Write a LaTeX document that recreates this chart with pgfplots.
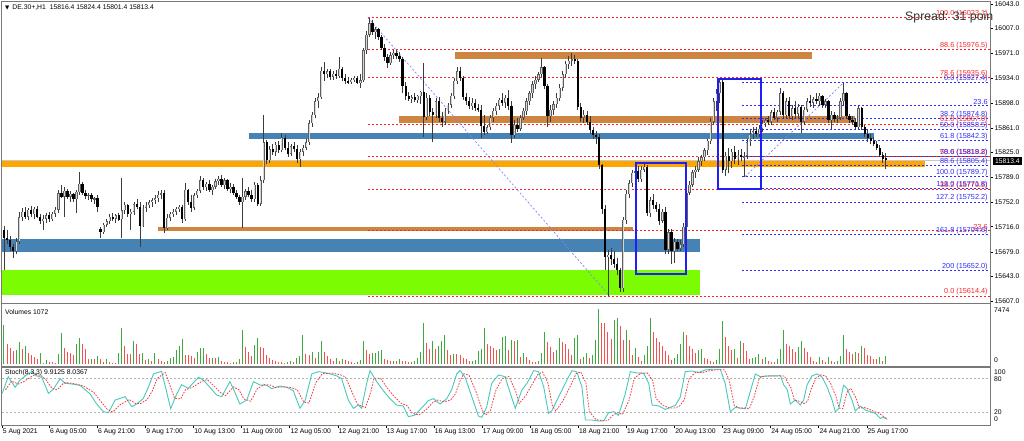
\documentclass[border=0pt]{standalone}
\usepackage{fontspec}
\setmainfont{Liberation Sans}
\newfontfamily\dejavu{DejaVu Sans}
\usepackage{pgfplots}
\usepackage{pgfplotstable}
\pgfplotsset{compat=1.18}
\definecolor{peru}{RGB}{205,133,63}
\definecolor{steel}{RGB}{70,130,180}
\definecolor{orng}{RGB}{255,165,0}
\definecolor{lawn}{RGB}{124,252,0}
\definecolor{fibred}{RGB}{250,40,40}
\definecolor{fibblue}{RGB}{45,45,250}
\definecolor{boxblue}{RGB}{30,30,245}
\definecolor{volg}{RGB}{60,170,60}
\definecolor{volr}{RGB}{245,80,80}
\definecolor{stk}{RGB}{72,201,190}
\definecolor{std}{RGB}{240,60,60}
\definecolor{frm}{RGB}{120,120,120}
\definecolor{bulledge}{RGB}{95,95,95}
\definecolor{bullfill}{RGB}{215,215,215}
\definecolor{wick}{RGB}{60,60,60}
\newcommand\sm{\fontsize{6.8}{8}\selectfont}
\newcommand\fl{\fontsize{7.3}{8}\selectfont}

\pgfplotstableread{
i o h l c
0 15711 15717 15652 15700
1 15700 15711 15690 15696
2 15696 15702 15680 15686
3 15686 15690 15670 15680
4 15680 15699 15676 15694
5 15694 15738 15690 15730
6 15730 15743 15724 15738
7 15738 15745 15727 15731
8 15731 15744 15726 15741
9 15741 15747 15730 15734
10 15734 15745 15728 15742
11 15742 15746 15729 15731
12 15731 15734 15720 15724
13 15724 15733 15711 15728
14 15728 15736 15722 15733
15 15733 15738 15723 15727
16 15727 15737 15724 15735
17 15735 15745 15730 15741
18 15741 15770 15736 15765
19 15765 15777 15758 15760
20 15760 15774 15730 15769
21 15769 15772 15756 15760
22 15760 15768 15752 15764
23 15764 15766 15753 15756
24 15756 15770 15736 15767
25 15767 15797 15763 15779
26 15779 15782 15762 15766
27 15766 15770 15756 15761
28 15761 15766 15755 15763
29 15763 15765 15752 15756
30 15756 15760 15750 15758
31 15758 15762 15738 15745
32 15712 15716 15700 15708
33 15708 15722 15705 15719
34 15719 15728 15715 15724
35 15724 15734 15720 15731
36 15731 15736 15725 15728
37 15728 15735 15722 15733
38 15733 15736 15724 15726
39 15727 15788 15700 15740
40 15740 15752 15735 15748
41 15748 15750 15731 15735
42 15735 15742 15711 15738
43 15738 15752 15733 15749
44 15749 15756 15742 15745
45 15745 15752 15686 15717
46 15717 15748 15715 15744
47 15744 15752 15738 15748
48 15748 15755 15743 15752
49 15752 15758 15745 15755
50 15755 15762 15750 15758
51 15758 15768 15752 15763
52 15763 15770 15756 15765
53 15765 15770 15707 15714
54 15714 15734 15711 15729
55 15729 15738 15725 15735
56 15735 15742 15730 15738
57 15738 15745 15733 15742
58 15742 15748 15737 15745
59 15745 15748 15722 15727
60 15727 15780 15724 15770
61 15770 15772 15748 15752
62 15752 15762 15738 15744
63 15744 15766 15741 15762
64 15762 15772 15758 15769
65 15769 15790 15765 15784
66 15784 15787 15770 15774
67 15774 15782 15768 15779
68 15779 15784 15767 15770
69 15770 15778 15763 15775
70 15775 15786 15771 15783
71 15783 15790 15778 15786
72 15786 15792 15774 15777
73 15777 15788 15772 15784
74 15784 15786 15768 15771
75 15771 15780 15765 15775
76 15775 15779 15762 15765
77 15765 15770 15757 15760
78 15760 15763 15748 15752
79 15752 15788 15714 15760
80 15760 15772 15755 15768
81 15768 15775 15760 15763
82 15763 15770 15752 15756
83 15756 15782 15752 15778
84 15778 15780 15746 15750
85 15750 15790 15746 15784
86 15784 15880 15780 15840
87 15840 15843 15808 15814
88 15814 15835 15810 15830
89 15830 15838 15822 15826
90 15826 15840 15820 15836
91 15836 15842 15825 15828
92 15828 15853 15826 15847
93 15847 15850 15828 15832
94 15832 15840 15818 15823
95 15823 15838 15820 15834
96 15834 15841 15826 15830
97 15830 15836 15810 15815
98 15815 15830 15803 15826
99 15826 15836 15820 15832
100 15832 15845 15828 15840
101 15840 15872 15836 15868
102 15868 15885 15862 15880
103 15880 15905 15876 15900
104 15900 15912 15890 15906
105 15906 15950 15904 15945
106 15945 15958 15930 15940
107 15940 15948 15935 15944
108 15944 15947 15932 15936
109 15936 15944 15932 15941
110 15941 15946 15933 15937
111 15937 15965 15934 15948
112 15948 15951 15930 15935
113 15935 15940 15926 15930
114 15930 15936 15926 15928
115 15928 15934 15925 15932
116 15932 15938 15929 15935
117 15935 15937 15925 15927
118 15927 15941 15920 15931
119 15931 15978 15929 15975
120 15975 16003 15970 15998
121 15998 16023.1 15995 16015
122 16015 16020 15998 16002
123 16002 16010 15992 16006
124 16006 16008 15990 15994
125 15994 15998 15975 15979
126 15979 15985 15960 15965
127 15965 15970 15949 15956
128 15956 15972 15953 15968
129 15968 15975 15962 15971
130 15971 15976 15963 15966
131 15966 15972 15958 15962
132 15962 15965 15912 15922
133 15922 15928 15902 15908
134 15908 15914 15900 15903
135 15903 15910 15897 15906
136 15906 15912 15899 15902
137 15902 15910 15898 15908
138 15908 15916 15896 15914
139 15914 15956 15848 15877
140 15877 15912 15873 15905
141 15905 15910 15878 15884
142 15884 15890 15840 15880
143 15880 15905 15876 15900
144 15900 15906 15870 15876
145 15876 15885 15862 15870
146 15870 15890 15866 15886
147 15886 15898 15882 15895
148 15895 15912 15890 15908
149 15908 15935 15904 15930
150 15930 15950 15925 15944
151 15944 15951 15930 15934
152 15934 15937 15902 15907
153 15907 15912 15895 15900
154 15900 15906 15889 15893
155 15893 15905 15888 15898
156 15898 15903 15886 15890
157 15890 15896 15884 15888
158 15888 15895 15846 15864
159 15864 15880 15850 15855
160 15855 15866 15852 15862
161 15862 15880 15858 15876
162 15876 15890 15870 15886
163 15886 15898 15880 15894
164 15894 15905 15888 15902
165 15902 15912 15893 15898
166 15898 15910 15890 15905
167 15905 15917 15888 15893
168 15893 15900 15839 15850
169 15850 15872 15846 15866
170 15866 15875 15855 15860
171 15860 15880 15856 15876
172 15876 15890 15872 15886
173 15886 15905 15880 15900
174 15900 15916 15895 15912
175 15912 15930 15905 15925
176 15925 15938 15918 15932
177 15932 15943 15928 15940
178 15940 15964 15936 15950
179 15950 15952 15918 15922
180 15922 15926 15862 15878
181 15878 15895 15870 15888
182 15888 15900 15880 15896
183 15896 15912 15890 15905
184 15905 15925 15900 15920
185 15920 15945 15915 15940
186 15940 15960 15935 15955
187 15955 15966 15948 15960
188 15960 15971 15952 15962
189 15962 15968 15955 15960
190 15960 15963 15888 15892
191 15892 15897 15870 15876
192 15876 15888 15868 15880
193 15880 15886 15865 15870
194 15870 15878 15852 15858
195 15858 15862 15845 15850
196 15850 15856 15838 15848
197 15848 15852 15801 15806
198 15806 15808 15735 15742
199 15742 15748 15652 15671
200 15671 15682 15614.4 15675
201 15675 15685 15660 15668
202 15668 15680 15656 15662
203 15662 15670 15645 15652
204 15652 15655 15620 15626
205 15626 15730 15620 15726
206 15726 15770 15720 15764
207 15764 15785 15758 15780
208 15780 15800 15775 15795
209 15795 15802 15790 15798
210 15798 15805 15782 15786
211 15786 15805 15782 15800
212 15800 15810 15796 15804
213 15804 15806 15732 15736
214 15736 15760 15730 15755
215 15755 15764 15742 15748
216 15748 15752 15738 15742
217 15742 15750 15718 15725
218 15725 15742 15722 15738
219 15738 15745 15676 15682
220 15682 15712 15676 15708
221 15708 15712 15662 15680
222 15680 15700 15663 15694
223 15694 15698 15680 15684
224 15684 15696 15680 15690
225 15690 15722 15686 15716
226 15716 15770 15712 15766
227 15766 15783 15762 15778
228 15778 15800 15774 15796
229 15796 15805 15788 15800
230 15800 15818 15797 15812
231 15812 15822 15805 15818
232 15818 15832 15812 15828
233 15828 15845 15822 15842
234 15842 15875 15838 15870
235 15870 15905 15866 15900
236 15900 15918 15886 15912
237 15912 15934 15898 15928
238 15928 15932 15795 15800
239 15800 15826 15790 15820
240 15820 15832 15795 15812
241 15812 15830 15802 15826
242 15826 15835 15808 15815
243 15815 15828 15806 15822
244 15822 15830 15812 15818
245 15818 15826 15789.7 15820
246 15820 15845 15815 15840
247 15840 15858 15835 15852
248 15852 15862 15845 15856
249 15856 15862 15848 15852
250 15852 15866 15848 15860
251 15860 15872 15855 15868
252 15868 15876 15862 15872
253 15872 15878 15866 15870
254 15870 15888 15866 15884
255 15884 15890 15872 15876
256 15876 15888 15870 15885
257 15885 15920 15880 15912
258 15912 15916 15875 15880
259 15880 15905 15874 15900
260 15900 15906 15874 15878
261 15878 15895 15873 15890
262 15890 15900 15876 15882
263 15882 15896 15876 15892
264 15892 15895 15853 15870
265 15870 15892 15866 15888
266 15888 15905 15884 15900
267 15900 15910 15892 15898
268 15898 15907 15890 15903
269 15903 15912 15896 15900
270 15900 15912 15894 15908
271 15908 15910 15890 15895
272 15895 15904 15890 15900
273 15900 15902 15868 15872
274 15872 15886 15860 15880
275 15880 15884 15870 15874
276 15874 15880 15868 15876
277 15876 15905 15872 15900
278 15900 15927.4 15895 15912
279 15912 15914 15874 15878
280 15878 15882 15868 15872
281 15872 15878 15866 15870
282 15870 15874 15858 15862
283 15862 15895 15858 15890
284 15890 15892 15858 15862
285 15862 15866 15848 15852
286 15852 15858 15840 15846
287 15846 15852 15838 15842
288 15842 15848 15835 15838
289 15838 15842 15828 15832
290 15832 15836 15818 15822
291 15822 15826 15810 15816
292 15816.4 15824.4 15801.4 15813.4
}\candles

\pgfplotstableread{
i v g
0 5300 1
1 2700 0
2 2150 0
3 1840 0
4 1900 1
5 2960 1
6 2000 0
7 2470 1
8 1480 0
9 1250 0
10 950 0
11 700 0
12 1570 1
13 150 0
14 600 1
15 350 0
16 250 0
17 150 0
18 1400 1
19 4265 1
20 2150 0
21 1700 0
22 1500 0
23 1250 0
24 2700 1
25 3590 1
26 2700 0
27 2100 0
28 700 0
29 720 1
30 700 0
31 1100 1
32 700 0
33 350 0
34 700 1
35 250 0
36 200 0
37 150 0
38 1550 1
39 4850 1
40 2450 0
41 1400 0
42 1350 0
43 3200 1
44 2700 0
45 1400 0
46 1500 1
47 600 0
48 700 1
49 400 0
50 1500 1
51 700 0
52 400 0
53 350 0
54 500 1
55 800 1
56 1050 1
57 1900 1
58 2500 1
59 3400 1
60 1300 0
61 1200 0
62 1100 0
63 900 0
64 1700 1
65 2200 1
66 2250 1
67 1400 0
68 800 0
69 900 1
70 800 0
71 1000 1
72 500 0
73 350 0
74 250 0
75 200 0
76 350 1
77 300 0
78 700 1
79 4600 1
80 2300 0
81 1600 0
82 1100 0
83 2600 1
84 3600 1
85 2300 0
86 2250 0
87 1300 0
88 900 0
89 600 0
90 400 0
91 350 0
92 250 0
93 200 0
94 300 1
95 450 1
96 300 0
97 900 1
98 1150 1
99 3900 1
100 1400 0
101 1250 0
102 1600 1
103 900 0
104 1700 1
105 3200 1
106 1700 0
107 1150 0
108 700 0
109 400 0
110 800 1
111 450 0
112 700 1
113 600 0
114 400 0
115 300 0
116 200 0
117 350 1
118 600 1
119 3100 1
120 1900 0
121 1400 0
122 1500 1
123 1550 1
124 1800 1
125 1950 1
126 750 0
127 600 0
128 450 0
129 500 1
130 400 0
131 700 1
132 500 0
133 400 0
134 300 0
135 250 0
136 400 1
137 800 1
138 1700 1
139 5600 1
140 2900 0
141 2000 0
142 3100 1
143 2000 0
144 2400 1
145 3200 1
146 3900 1
147 1900 0
148 1200 0
149 1450 1
150 1400 0
151 1300 0
152 900 0
153 700 0
154 400 0
155 500 1
156 600 1
157 1800 1
158 2000 1
159 4900 1
160 2800 0
161 2400 0
162 2200 0
163 1900 0
164 2100 1
165 3700 1
166 3750 1
167 1900 0
168 3250 1
169 3100 0
170 3300 1
171 950 0
172 1500 1
173 950 0
174 600 0
175 350 0
176 320 0
177 500 1
178 1500 1
179 4400 1
180 3000 0
181 2300 0
182 1600 0
183 1950 1
184 3600 1
185 3000 0
186 2750 0
187 2000 0
188 1300 0
189 3600 1
190 4000 1
191 700 0
192 1050 1
193 1500 1
194 800 0
195 1300 1
196 3300 1
197 7474 1
198 5600 0
199 5550 0
200 4400 0
201 3450 0
202 6000 1
203 6300 1
204 5200 0
205 3300 0
206 4600 1
207 3300 0
208 1300 0
209 2200 1
210 1050 0
211 500 0
212 1300 1
213 2400 1
214 6300 1
215 4300 0
216 3600 0
217 3000 0
218 2400 0
219 1750 0
220 1300 0
221 600 0
222 800 1
223 1400 1
224 2800 1
225 4400 1
226 3900 0
227 2500 0
228 2000 0
229 1500 0
230 1900 1
231 2050 1
232 800 0
233 700 0
234 500 0
235 300 0
236 600 1
237 2000 1
238 5860 1
239 3700 0
240 2450 0
241 1900 0
242 2000 1
243 800 0
244 3100 1
245 2900 0
246 1750 0
247 700 0
248 800 1
249 950 1
250 1400 1
251 700 0
252 950 1
253 500 0
254 350 0
255 250 0
256 700 1
257 2000 1
258 4600 1
259 2800 0
260 2500 0
261 2000 0
262 1600 0
263 2350 1
264 3100 1
265 2200 0
266 1600 0
267 1050 0
268 500 0
269 350 0
270 1050 1
271 600 0
272 350 0
273 950 1
274 500 0
275 250 0
276 500 1
277 1150 1
278 3900 1
279 2000 0
280 1600 0
281 1400 0
282 1600 1
283 1500 0
284 2400 1
285 2200 0
286 1300 0
287 1150 0
288 700 0
289 680 0
290 1050 1
291 500 0
292 1072 1
}\vol

\begin{document}
\begin{tikzpicture}
\useasboundingbox (0,0) rectangle (1024pt,440pt);
\fill[white] (0,0) rectangle (1024pt,440pt);

% ---------------- main price panel ----------------
\begin{axis}[
  at={(2pt,137pt)}, anchor=south west, scale only axis,
  width=988pt, height=301pt,
  xmin=-0.662, xmax=326.5, ymin=15604, ymax=16046,
  axis line style={draw=frm, line width=1pt},
  xtick=\empty,
  ytick={15607,15643,15679,15716,15752,15789,15825,15861,15898,15934,15971,16007,16043},
  yticklabels={15607.0,15643.0,15679.0,15716.0,15752.0,15789.0,15825.0,15861.0,15898.0,15934.0,15971.0,16007.0,16043.0},
  ytick pos=right, yticklabel pos=right,
  tick align=outside, major tick length=3pt,
  tick style={black, line width=0.5pt},
  yticklabel style={font=\sm, inner sep=0pt, xshift=1.5pt},
  clip mode=individual,
]
% zones
\fill[peru]  (axis cs:149.3,15961.8) rectangle (axis cs:267.5,15972.1);
\fill[peru]  (axis cs:130.8,15867.8) rectangle (axis cs:281.8,15879.0);
\fill[steel] (axis cs:81.1,15845.5) rectangle (axis cs:288.1,15853.5);
\fill[orng]  (axis cs:-0.6,15803.3) rectangle (axis cs:305,15812.5);
\fill[peru]  (axis cs:51,15709.2) rectangle (axis cs:208.3,15715.1);
\fill[steel] (axis cs:-0.6,15679) rectangle (axis cs:230.5,15698);
\fill[lawn]  (axis cs:-0.6,15615.3) rectangle (axis cs:230.5,15652.4);
% bid line
\draw[black!22, line width=0.8pt] (axis cs:-0.6,15813.4) -- (axis cs:326.4,15813.4);
% red fibo levels
\pgfplotsinvokeforeach{16023.1,15976.5,15935.6,15867.0,15818.8,15770.5,15710.9,15614.4}{
  \draw[fibred, line width=0.7pt, dash pattern=on 2pt off 2pt] (axis cs:120.5,#1) -- (axis cs:326.4,#1);
}
% blue fibo levels
\pgfplotsinvokeforeach{15927.4,15894.9,15874.8,15858.5,15842.3,15819.2,15805.4,15789.7,15771.8,15752.2,15704.6,15652.0}{
  \draw[fibblue, line width=0.7pt, dash pattern=on 2pt off 2pt] (axis cs:244.4,#1) -- (axis cs:326.4,#1);
}
% fibo trend lines
\draw[fibblue!60, line width=0.7pt, dash pattern=on 2pt off 2pt] (axis cs:120.5,16023.1) -- (axis cs:200.5,15614.4);
\draw[fibblue!60, line width=0.7pt, dash pattern=on 2pt off 2pt] (axis cs:245.4,15789.7) -- (axis cs:278,15927.4);

% candles: wicks
\addplot[forget plot, draw=none, mark=none,
  error bars/.cd, y dir=both, y explicit, error mark=none,
  error bar style={draw=wick, line width=0.7pt}]
  table[x=i, y expr=0.5*\thisrow{h}+0.5*\thisrow{l}, y error expr=0.5*\thisrow{h}-0.5*\thisrow{l}] {\candles};
% bearish bodies
\addplot[forget plot, draw=none, mark=none,
  restrict expr to domain={\thisrow{o}-\thisrow{c}}{0.001:10000},
  error bars/.cd, y dir=both, y explicit, error mark=none,
  error bar style={draw=black, line width=2.3pt}]
  table[x=i, y expr=0.5*\thisrow{o}+0.5*\thisrow{c}, y error expr=0.5*\thisrow{o}-0.5*\thisrow{c}] {\candles};
% bullish bodies (outline + light fill)
\addplot[forget plot, draw=none, mark=none,
  restrict expr to domain={\thisrow{c}-\thisrow{o}}{0:10000},
  error bars/.cd, y dir=both, y explicit, error mark=none,
  error bar style={draw=bulledge, line width=2.3pt}]
  table[x=i, y expr=0.5*\thisrow{o}+0.5*\thisrow{c}, y error expr=0.5*\thisrow{c}-0.5*\thisrow{o}] {\candles};
\addplot[forget plot, draw=none, mark=none,
  restrict expr to domain={\thisrow{c}-\thisrow{o}}{3:10000},
  error bars/.cd, y dir=both, y explicit, error mark=none,
  error bar style={draw=bullfill, line width=0.9pt}]
  table[x=i, y expr=0.5*\thisrow{o}+0.5*\thisrow{c}, y error expr=0.5*\thisrow{c}-0.5*\thisrow{o}-0.6] {\candles};

% boxes
\draw[boxblue, line width=1.8pt] (axis cs:209.3,15646.6) rectangle (axis cs:225.8,15809.6);
\draw[boxblue, line width=1.8pt] (axis cs:236.4,15771.4) rectangle (axis cs:250.7,15932.9);

% fibo labels
\begin{scope}[every node/.style={anchor=south east, inner sep=0.4pt, font=\fl}]
\node[text=fibred] at (axis cs:325.9,16023.1) {100.0 (16023.1)};
\node[text=fibred] at (axis cs:325.9,15976.5) {88.6 (15976.5)};
\node[text=fibred] at (axis cs:325.9,15935.6) {78.6 (15935.6)};
\node[text=fibred] at (axis cs:325.9,15867.0) {61.8 (15867.0)};
\node[text=fibred] at (axis cs:325.9,15818.8) {50.0 (15818.8)};
\node[text=fibred] at (axis cs:325.9,15770.5) {38.2 (15770.5)};
\node[text=fibred] at (axis cs:325.9,15710.9) {23.6};
\node[text=fibred] at (axis cs:325.9,15614.4) {0.0 (15614.4)};
\node[text=fibblue] at (axis cs:325.9,15927.4) {0.0 (15927.4)};
\node[text=fibblue] at (axis cs:325.9,15894.9) {23.6};
\node[text=fibblue] at (axis cs:325.9,15874.8) {38.2 (15874.8)};
\node[text=fibblue] at (axis cs:325.9,15858.5) {50.0 (15858.5)};
\node[text=fibblue] at (axis cs:325.9,15842.3) {61.8 (15842.3)};
\node[text=fibblue] at (axis cs:325.9,15819.2) {78.6 (15819.2)};
\node[text=fibblue] at (axis cs:325.9,15805.4) {88.6 (15805.4)};
\node[text=fibblue] at (axis cs:325.9,15789.7) {100.0 (15789.7)};
\node[text=fibblue] at (axis cs:325.9,15771.8) {113.0 (15771.8)};
\node[text=fibblue] at (axis cs:325.9,15752.2) {127.2 (15752.2)};
\node[text=fibblue] at (axis cs:325.9,15704.6) {161.8 (15704.6)};
\node[text=fibblue] at (axis cs:325.9,15652.0) {200 (15652.0)};
\end{scope}
\end{axis}

% ---------------- volume panel ----------------
\begin{axis}[
  at={(2pt,74pt)}, anchor=south west, scale only axis,
  width=988pt, height=62pt,
  xmin=-0.662, xmax=326.5, ymin=-229, ymax=8122,
  axis line style={draw=frm, line width=1pt},
  xtick=\empty, ytick=\empty,
]
\addplot[ycomb, volg, line width=1pt, mark=none,
  restrict expr to domain={\thisrow{g}}{0.5:1.5}] table[x=i, y=v] {\vol};
\addplot[ycomb, volr, line width=1pt, mark=none,
  restrict expr to domain={\thisrow{g}}{-0.5:0.5}] table[x=i, y=v] {\vol};
\end{axis}

% ---------------- stochastic panel ----------------
\begin{axis}[
  at={(2pt,15pt)}, anchor=south west, scale only axis,
  width=988pt, height=58pt,
  xmin=-0.662, xmax=326.5, ymin=-1.5, ymax=99.7,
  axis line style={draw=frm, line width=1pt},
  ytick=\empty,
  xtick={-0.6,14.99,30.92,46.84,62.77,78.69,94.61,110.54,126.46,142.39,158.31,174.23,190.16,206.08,222.01,237.93,253.85,269.78,285.70},
  xticklabels={5 Aug 2021,6 Aug 05:00,6 Aug 21:00,9 Aug 17:00,10 Aug 13:00,11 Aug 09:00,12 Aug 05:00,12 Aug 21:00,13 Aug 17:00,16 Aug 13:00,17 Aug 09:00,18 Aug 05:00,18 Aug 21:00,19 Aug 17:00,20 Aug 13:00,23 Aug 09:00,24 Aug 05:00,24 Aug 21:00,25 Aug 17:00},
  xtick pos=lower, tick align=outside, major tick length=3pt,
  tick style={black, line width=0.5pt},
  xticklabel style={font=\sm, anchor=north west, inner sep=0pt, xshift=0.6pt, yshift=-1pt},
]
\draw[black!30, dash pattern=on 2pt off 2pt, line width=0.6pt] (axis cs:-0.6,80) -- (axis cs:326.4,80);
\draw[black!30, dash pattern=on 2pt off 2pt, line width=0.6pt] (axis cs:-0.6,20) -- (axis cs:326.4,20);
\addplot[stk, line width=0.9pt, mark=none] coordinates {
(-0.6,53.8)(1.4,82.9)(3.7,64.3)(5.3,77.1)(7.5,85.8)(9.2,91.6)(10.8,84.1)(12.5,81.7)(14.7,53.8)(16.3,60.8)(18.6,79.4)(20.2,71.3)(22.4,70.1)(25.2,67.8)(28.5,52.6)(30.7,35.1)(32.9,21.7)(34.6,20.0)(36.8,42.1)(40.1,48.0)(42.3,30.5)(43.9,35.1)(46.1,44.5)(47.8,64.3)(49.5,87.6)(52.2,92.2)(55.2,27.0)(57.2,52.6)(58.8,68.9)(61.0,62.5)(64.4,81.7)(66.0,77.1)(70.4,50.9)(72.1,48.0)(74.8,74.2)(76.5,55.0)(78.1,35.1)(80.4,42.1)(82.6,74.2)(84.8,68.3)(87.0,67.8)(88.6,61.9)(91.4,66.6)(93.6,64.3)(95.8,58.4)(98.0,27.6)(99.7,41.0)(101.9,87.6)(104.1,91.6)(107.4,88.7)(110.2,84.1)(111.8,79.4)(114.0,42.1)(115.7,27.6)(117.3,33.4)(118.4,27.6)(120.1,71.3)(121.2,93.4)(123.4,74.2)(125.6,58.4)(127.8,44.5)(130.0,33.4)(132.2,31.7)(133.9,13.0)(136.1,15.9)(138.9,31.7)(140.5,41.0)(142.2,44.5)(144.4,35.1)(146.6,44.5)(148.2,59.6)(149.9,87.6)(151.0,93.4)(152.7,81.7)(154.9,48.0)(157.1,14.2)(158.2,11.8)(159.8,29.3)(161.5,71.3)(163.7,85.8)(165.9,82.9)(168.1,46.8)(169.3,27.6)(171.5,59.6)(173.2,71.3)(175.4,93.4)(177.0,91.6)(178.7,65.4)(180.3,18.8)(181.4,23.5)(183.7,48.0)(186.4,77.1)(188.1,93.4)(189.7,91.1)(191.4,64.3)(192.5,7.2)(194.7,7.2)(196.9,5.4)(198.6,6.0)(200.2,20.0)(201.9,21.7)(203.5,15.3)(205.7,52.6)(207.4,91.6)(209.6,89.3)(211.8,88.7)(213.5,71.3)(214.6,33.4)(216.8,31.7)(219.0,25.8)(220.6,29.3)(222.3,32.8)(223.9,46.8)(225.6,91.6)(227.8,92.8)(230.0,89.9)(232.2,94.6)(234.4,95.7)(237.2,95.7)(238.8,71.3)(240.5,21.7)(242.2,29.3)(244.4,27.6)(245.5,27.0)(247.1,56.7)(248.8,87.6)(250.4,82.9)(253.2,84.1)(255.4,84.1)(257.1,84.7)(258.2,68.3)(259.3,60.8)(260.4,35.1)(262.0,42.1)(263.7,33.4)(264.8,42.1)(265.9,68.3)(267.5,84.1)(269.2,87.6)(270.8,82.9)(272.5,65.4)(274.2,42.1)(275.3,21.7)(276.4,27.0)(278.0,67.8)(279.1,62.5)(280.8,42.1)(281.9,22.9)(283.5,31.7)(285.2,24.7)(286.9,21.7)(288.5,18.8)(290.2,10.1)(291.3,11.8)(292.4,9.9)
};
\addplot[std, line width=0.8pt, mark=none, dash pattern=on 1.6pt off 1.3pt] coordinates {
(0.5,60)(2.5,75)(4.8,70)(6.5,74)(8.8,82)(10.5,87)(12.2,85)(13.8,78)(16,62)(17.6,60)(19.8,72)(21.6,72)(23.8,70)(26.5,66)(29.8,55)(32,40)(34.2,26)(36,21)(38.2,33)(41.4,43)(43.6,36)(45.2,36)(47.4,43)(49.1,58)(50.8,80)(53.4,90)(56.5,45)(58.5,44)(60.1,60)(62.3,64)(65.6,75)(67.3,78)(71.7,55)(73.4,50)(76,65)(77.8,60)(79.4,44)(81.7,40)(83.9,62)(86.1,69)(88.3,68)(89.9,64)(92.7,65)(94.9,64)(97.1,60)(99.3,38)(101,37)(103.2,72)(105.4,88)(108.7,89)(111.5,86)(113.1,82)(115.3,55)(117,35)(118.6,31)(119.7,29)(121.4,55)(122.5,80)(124.7,80)(126.9,63)(129.1,49)(131.3,37)(133.5,32)(135.2,19)(137.4,16)(140.2,27)(141.8,37)(143.5,42)(145.7,39)(147.9,42)(149.5,53)(151.2,78)(152.3,88)(154,85)(156.2,58)(158.4,24)(159.5,16)(161.1,24)(162.8,58)(165,80)(167.2,83)(169.4,58)(170.6,36)(172.8,50)(174.5,66)(176.7,86)(178.3,91)(180,74)(181.6,32)(182.7,23)(185,40)(187.7,68)(189.4,88)(191,91)(192.7,72)(193.8,22)(196,8)(198.2,6)(199.9,6)(201.5,15)(203.2,20)(204.8,17)(207,42)(208.7,80)(210.9,89)(213.1,89)(214.8,76)(215.9,45)(218.1,33)(220.3,28)(221.9,28)(223.6,31)(225.2,42)(226.9,80)(229.1,91)(231.3,90)(233.5,93)(235.7,95)(238.5,95)(240.1,78)(241.8,33)(243.5,28)(245.7,28)(246.8,27)(248.4,48)(250.1,80)(251.7,84)(254.5,84)(256.7,84)(258.4,84)(259.5,73)(260.6,63)(261.7,42)(263.3,40)(265,36)(266.1,40)(267.2,60)(268.8,80)(270.5,86)(272.1,84)(273.8,70)(275.5,48)(276.6,28)(277.7,27)(279.3,58)(280.4,62)(282.1,46)(283.2,28)(284.8,29)(286.5,26)(288.2,22)(289.8,19)(291.5,12)(292.4,8.0)
};
\end{axis}

% ---------------- texts ----------------
\node[anchor=west, inner sep=0pt, font=\sm] at (5pt,432.7pt) {{\dejavu\fontsize{5.5}{6}\selectfont ▼}\hspace{3pt}DE.30+,H1\hspace{4pt}15816.4 15824.4 15801.4 15813.4};
\node[anchor=base west, inner sep=0pt, text=black!80, font=\fontsize{12.3}{14}\selectfont] at (905pt,419.5pt) {Spread: 31 poin};
\node[anchor=west, inner sep=0pt, font=\sm] at (5pt,127.7pt) {Volumes 1072};
\node[anchor=west, inner sep=0pt, font=\sm] at (5pt,67.3pt) {Stoch(8,3,3) 9.9125 8.0367};
\node[anchor=west, inner sep=0pt, font=\sm] at (994pt,130pt) {7474};
\node[anchor=west, inner sep=0pt, font=\sm] at (994pt,80pt) {0};
\node[anchor=west, inner sep=0pt, font=\sm] at (994pt,68pt) {100};
\node[anchor=west, inner sep=0pt, font=\sm] at (994pt,61pt) {80};
\node[anchor=west, inner sep=0pt, font=\sm] at (994pt,28pt) {20};
\node[anchor=west, inner sep=0pt, font=\sm] at (994pt,21pt) {0};
\node[anchor=west, fill=black, text=white, inner sep=0pt, minimum width=29pt, minimum height=8.5pt, font=\sm] at (992.7pt,278.8pt) {15813.4};
\end{tikzpicture}
\end{document}
